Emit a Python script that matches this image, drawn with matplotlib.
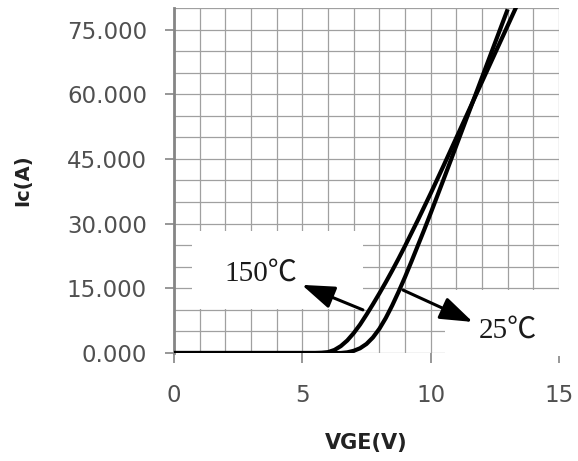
import matplotlib
matplotlib.use("Agg")
import matplotlib.pyplot as plt
from matplotlib.patches import Rectangle
from matplotlib.ticker import MultipleLocator, FormatStrFormatter

# Transfer characteristic Ic vs VGE at two junction temperatures
vge_150 = [0.0, 5.5, 5.75, 6.0, 6.25, 6.5, 6.75, 7.0, 7.25, 7.5, 7.75, 8.0, 8.25,
           8.5, 8.75, 9.0, 9.5, 10.0, 10.5, 11.0, 11.5, 12.0, 12.5, 13.0, 13.5]
ic_150 = [0.0, 0.0, 0.05, 0.2, 0.7, 1.6, 2.9, 4.6, 6.6, 8.9, 11.3, 13.8, 16.4,
          19.1, 21.9, 24.8, 30.8, 37.0, 43.4, 49.9, 56.4, 62.9, 69.4, 75.9, 82.4]

vge_25 = [0.0, 6.5, 6.75, 7.0, 7.25, 7.5, 7.75, 8.0, 8.25, 8.5, 8.75, 9.0, 9.25,
          9.5, 9.75, 10.0, 10.5, 11.0, 11.5, 12.0, 12.5, 13.0]
ic_25 = [0.0, 0.0, 0.15, 0.5, 1.1, 2.1, 3.6, 5.6, 8.1, 11.0, 14.2, 17.6, 21.2,
         24.9, 28.6, 32.4, 40.2, 48.1, 56.0, 63.9, 71.8, 79.7]

x_ticks = [0, 5, 10, 15]
y_ticks = [0, 15, 30, 45, 60, 75]
label_150 = "150℃"
label_25 = "25℃"

fig = plt.figure(figsize=(5.78, 4.61), dpi=100)
ax = fig.add_axes([174 / 578, 1 - 353 / 461, 385 / 578, 345 / 461])

ax.set_xlim(0, 15)
ax.set_ylim(0, 80)
ax.set_axisbelow(True)

# fine grid: every 1 V and every 5 A
ax.xaxis.set_minor_locator(MultipleLocator(1))
ax.yaxis.set_minor_locator(MultipleLocator(5))
ax.set_xticks(x_ticks)
ax.set_yticks(y_ticks)
ax.yaxis.set_major_formatter(FormatStrFormatter("%.3f"))
ax.grid(True, which="both", color="#a0a0a0", linewidth=0.9)

for side in ("top", "right", "bottom"):
    ax.spines[side].set_visible(False)
ax.spines["left"].set_color("#858585")
ax.spines["left"].set_linewidth(2.0)

ax.tick_params(axis="y", which="major", direction="out", length=6.5, width=1.2,
               color="#858585", pad=13, labelsize=16.5, labelcolor="#505050")
ax.tick_params(axis="x", which="major", direction="out", length=7.5, width=1.2,
               color="#858585", pad=15, labelsize=16.5, labelcolor="#505050")
ax.tick_params(which="minor", length=0)

# white label boxes sitting over the grid
ax.add_patch(Rectangle((0.70, 10.3), 7.36 - 0.70, 28.3 - 10.3,
                       facecolor="white", edgecolor="none", zorder=1))
ax.add_patch(Rectangle((10.55, -0.8), 5.2, 14.7 + 0.8,
                       facecolor="white", edgecolor="none", zorder=1, clip_on=False))

ax.plot(vge_150, ic_150, color="black", linewidth=3.0, zorder=3,
        solid_capstyle="butt")
ax.plot(vge_25, ic_25, color="black", linewidth=3.0, zorder=3,
        solid_capstyle="butt")

arrow = dict(arrowstyle="-|>,head_length=2.0,head_width=0.7", mutation_scale=10,
             color="black", lw=2.2, shrinkA=0, shrinkB=0)
ax.annotate("", xy=(4.98, 15.8), xytext=(7.36, 10.0), arrowprops=arrow, zorder=4)
ax.annotate("", xy=(11.64, 7.2), xytext=(8.92, 14.6), arrowprops=arrow, zorder=4,
            annotation_clip=False)

serif = ["Liberation Serif", "Noto Sans CJK SC", "DejaVu Sans"]
ax.text(3.39, 18.3, label_150, family=serif, fontsize=21, ha="center",
        va="center", color="#1a1a1a", zorder=5)
ax.text(13.0, 5.1, label_25, family=serif, fontsize=21, ha="center",
        va="center", color="#1a1a1a", zorder=5, clip_on=False)

ax.set_xlabel("VGE(V)", fontsize=15, fontweight="bold", color="#222222")
ax.set_ylabel("Ic(A)", fontsize=14, fontweight="bold", color="#222222")
ax.xaxis.set_label_coords(0.5, (353 - 443) / 345)
ax.yaxis.set_label_coords((23 - 174) / 385, 0.5)
ax.xaxis.label.set_va("center")
ax.yaxis.label.set_va("center")

fig.savefig("out.png", dpi=100)
